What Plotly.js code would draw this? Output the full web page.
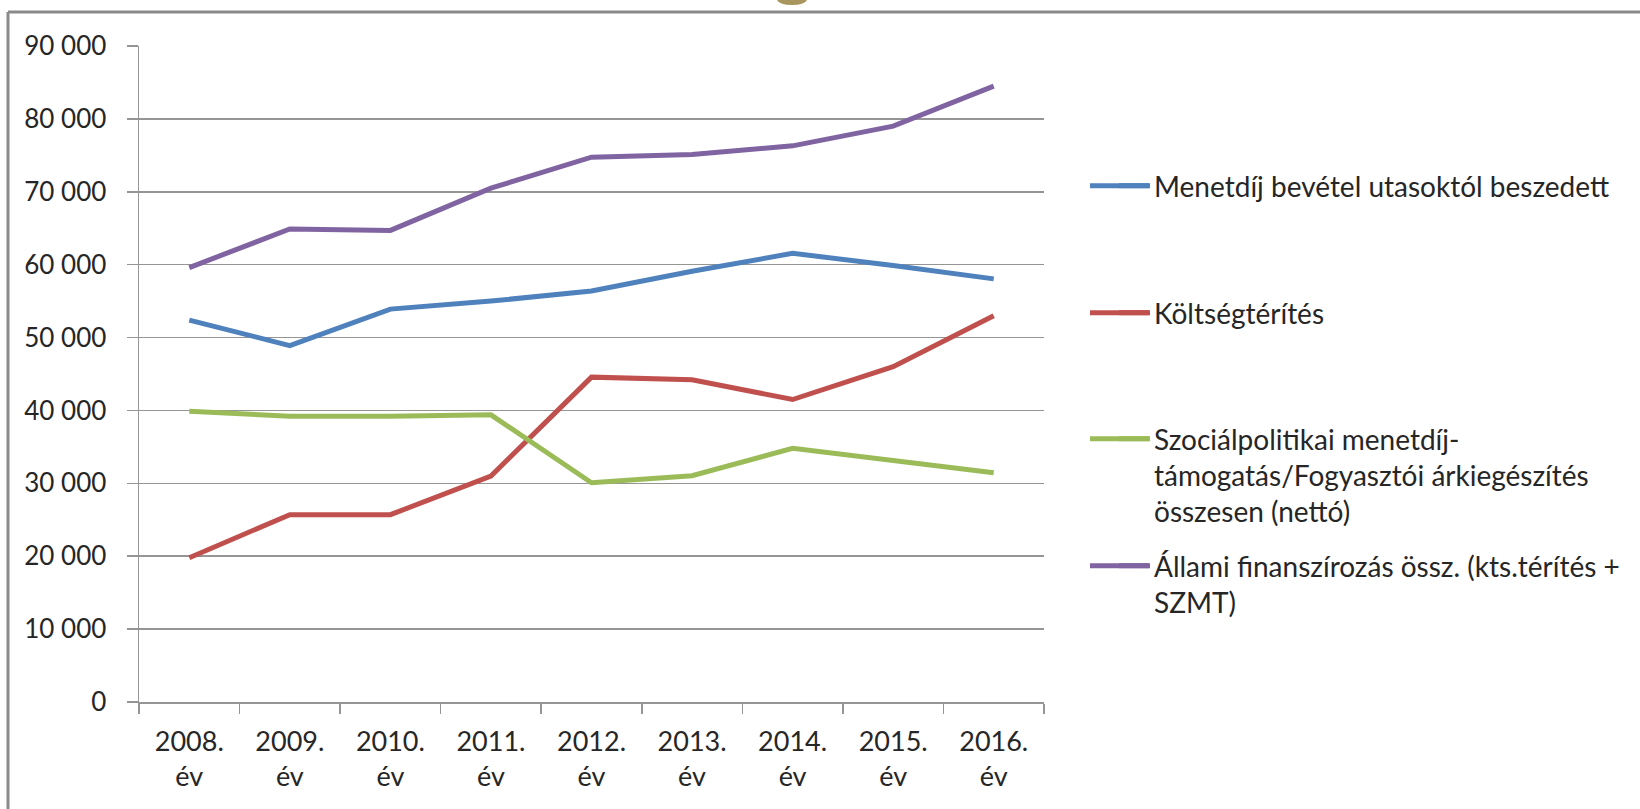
<!DOCTYPE html>
<html>
<head>
<meta charset="utf-8">
<script src="https://cdn.plot.ly/plotly-3.0.1.min.js"></script>
<style>
  html, body { margin: 0; padding: 0; background: #ffffff; }
  #chart { width: 1640px; height: 809px; }
</style>
</head>
<body>
<div id="chart"></div>
<script>
// ---- data ----
const years = ['2008', '2009', '2010', '2011', '2012', '2013', '2014', '2015', '2016'];
const tickLabels = years.map(y => y + '.<br>év');

const seriesNames = [
  'Menetdíj bevétel utasoktól beszedett',
  'Költségtérítés',
  'Szociálpolitikai menetdíj-<br>támogatás/Fogyasztói árkiegészítés<br>összesen (nettó)',
  'Állami finanszírozás össz. (kts.térítés +<br>SZMT)'
];
const menetdij       = [52400, 48900, 53900, 55000, 56400, 59100, 61550, 59900, 58050];
const koltsegterites = [19800, 25700, 25700, 31000, 44570, 44200, 41500, 46000, 53000];
const szocpol        = [39900, 39200, 39200, 39400, 30080, 31040, 34800, 33060, 31450];
const allami         = [59600, 64900, 64700, 70500, 74750, 75100, 76300, 79000, 84500];

const seriesValues = [menetdij, koltsegterites, szocpol, allami];
const colors = ['#4F81BD', '#C0504D', '#9BBB59', '#8064A2'];

// ---- layout geometry (pixels) ----
const W = 1640, H = 809;
const M = { l: 139, r: 596, t: 46, b: 107 };
const PW = W - M.l - M.r, PH = H - M.t - M.b;
const px2x = px => (px - M.l) / PW;
const py2y = py => (H - M.b - py) / PH;

const legendTop = [161, 288, 414, 541];   // top edge of each legend box (px)
const keyOffset = 24.7;                    // Plotly: symbol centre below legend top
const legendIds = ['legend', 'legend2', 'legend3', 'legend4'];
const LW = 5;

const traces = seriesValues.map((vals, i) => ({
  type: 'scatter',
  mode: 'lines',
  x: tickLabels,
  y: vals,
  name: seriesNames[i],
  line: { color: colors[i], width: LW },
  legend: legendIds[i],
  hoverinfo: 'x+y+name'
}));

const font = { family: 'Lato, "Open Sans", sans-serif', color: '#262626' };

const shapes = [
  // slide frame
  { type: 'line', xref: 'paper', yref: 'paper', x0: px2x(8), x1: px2x(1660), y0: py2y(12), y1: py2y(12),
    line: { color: '#8a8a8a', width: 3 } },
  { type: 'line', xref: 'paper', yref: 'paper', x0: px2x(8), x1: px2x(8), y0: py2y(12), y1: py2y(830),
    line: { color: '#8a8a8a', width: 3 } },
  // decorative gold blob at top
  { type: 'circle', xref: 'paper', yref: 'paper', x0: px2x(777), x1: px2x(807), y0: py2y(-6), y1: py2y(5),
    fillcolor: '#A8965E', line: { width: 0 } }
];
// lengthen the legend line keys to the original's width
legendTop.forEach((top, i) => {
  const py = top + keyOffset;
  shapes.push({ type: 'line', xref: 'paper', yref: 'paper',
    x0: px2x(1090), x1: px2x(1150), y0: py2y(py), y1: py2y(py),
    line: { color: colors[i], width: LW } });
});

const layout = {
  width: W, height: H,
  margin: M,
  paper_bgcolor: '#ffffff',
  plot_bgcolor: '#ffffff',
  separators: ', ',
  font: font,
  showlegend: true,
  xaxis: {
    type: 'category',
    range: [-0.5, years.length - 0.5],
    tickson: 'boundaries',
    ticks: 'outside',
    ticklen: 10,
    tickcolor: '#959595',
    tickwidth: 1.5,
    showgrid: false,
    showline: true,
    linecolor: '#959595',
    linewidth: 1.5,
    tickfont: { family: font.family, size: 27, color: '#262626' },
    ticklabelstandoff: 15,
    fixedrange: true
  },
  yaxis: {
    range: [0, 90000],
    dtick: 10000,
    tickformat: ',d',
    ticks: 'outside',
    ticklen: 11,
    tickcolor: '#959595',
    tickwidth: 1.5,
    showgrid: true,
    gridcolor: '#959595',
    gridwidth: 1.5,
    zeroline: false,
    showline: true,
    linecolor: '#959595',
    linewidth: 1.5,
    tickfont: { family: font.family, size: 26, color: '#262626' },
    ticklabelstandoff: 15,
    fixedrange: true
  },
  shapes: shapes
};

legendIds.forEach((id, i) => {
  layout[id] = {
    x: px2x(1114),
    xanchor: 'left',
    y: py2y(legendTop[i]),
    yanchor: 'top',
    valign: 'top',
    bgcolor: 'rgba(0,0,0,0)',
    borderwidth: 0,
    font: { family: font.family, size: 28, color: '#262626' }
  };
});

Plotly.newPlot('chart', traces, layout, { displayModeBar: false, staticPlot: true });
</script>
</body>
</html>
